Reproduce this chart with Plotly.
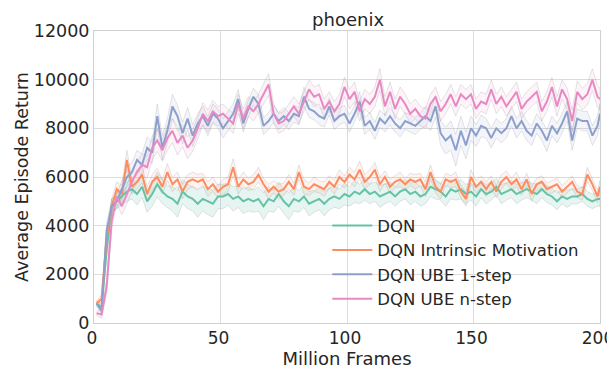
import plotly.graph_objects as go

frames = list(range(1, 200, 2)) + [200]

dqn = [800, 650, 3000, 4800, 5000, 5200, 5400, 5500, 5300, 5600,
       5000, 5300, 5700, 5400, 5200, 5100, 4900, 5400, 5200, 5100,
       4900, 5100, 5000, 4900, 5200, 5200, 5300, 5100, 5200, 5000,
       5100, 5000, 5100, 4800, 5100, 5000, 5300, 5000, 4800, 5100,
       5000, 5200, 4900, 5000, 5100, 4900, 5100, 5200, 5100, 5300,
       5200, 5400, 5300, 5500, 5300, 5400, 5200, 5300, 5400, 5200,
       5400, 5500, 5300, 5400, 5200, 5300, 5600, 5500, 5400, 5200,
       5500, 5400, 5500, 5300, 5400, 5200, 5500, 5300, 5400, 5600,
       5300, 5400, 5500, 5300, 5400, 5500, 5400, 5300, 5500, 5300,
       5200, 5000, 5200, 5100, 5200, 5200, 5300, 5100, 5000, 5100, 5100]

intrinsic = [800, 1000, 3500, 4800, 5500, 5300, 6700, 5600, 5800, 6100,
             5300, 5800, 6000, 5600, 6200, 5700, 5900, 5400, 5800, 5900,
             5800, 5900, 5500, 5700, 5400, 5600, 5700, 6400, 5600, 5900,
             5700, 5800, 6100, 5700, 5400, 5600, 5400, 5500, 5800, 5500,
             6200, 5600, 5500, 5700, 5600, 5500, 5800, 5600, 6000, 5800,
             6100, 5900, 6300, 5800, 6000, 6300, 5700, 6000, 5600, 5800,
             5900, 5700, 5900, 5800, 5900, 5500, 6200, 5600, 5400, 5900,
             5800, 5900, 5400, 5100, 6000, 5600, 5800, 5500, 5800, 5400,
             5800, 6000, 5700, 5900, 5500, 5900, 5300, 5700, 5800, 5500,
             5600, 5700, 5400, 5600, 5800, 5400, 5300, 6100, 5700, 5200, 5600]

ube_1step = [800, 500, 3800, 4800, 5000, 5500, 6000, 6200, 6700, 6500,
             7200, 7000, 8500, 7200, 7900, 8900, 8500, 7800, 8400, 7700,
             8200, 8500, 8100, 8600, 8400, 8000, 8300, 8600, 9200, 8200,
             8800, 9300, 9000, 8100, 8300, 8600, 8300, 8500, 8300, 8600,
             8500, 9300, 8800, 8700, 8500, 8400, 8900, 8300, 8500, 8600,
             8200, 8600, 9100, 8100, 8300, 7900, 8400, 8200, 8500, 8200,
             8000, 8300, 8200, 8100, 8300, 8500, 8300, 8900, 7800, 7500,
             7700, 7100, 7900, 7300, 8000, 7700, 8100, 8000, 7600, 8000,
             7800, 8000, 8500, 8000, 8300, 7900, 7700, 8200, 7900, 7500,
             8100, 7800, 8200, 8700, 7500, 8400, 8300, 8300, 7700, 8100, 8600]

ube_nstep = [400, 350, 1500, 4200, 5200, 4800, 5300, 5800, 6200, 6500,
             6400, 7200, 7500, 7100, 7600, 7900, 7400, 7700, 7200, 7500,
             8000, 8600, 8300, 8700, 8500, 8600, 8400, 8200, 9000, 8400,
             8900, 8700, 9000, 9400, 9800, 8600, 8200, 8300, 8600, 8900,
             8600, 9100, 9600, 9300, 9400, 8800, 9100, 8700, 9000, 9700,
             9200, 9500, 8700, 9200, 9000, 9300, 10000, 8900, 9500, 8800,
             9300, 9000, 8600, 8800, 8500, 8400, 9000, 9300, 8700, 9000,
             9400, 8900, 9400, 9200, 9400, 8800, 9100, 9000, 9600, 9000,
             9300, 8900, 9200, 9500, 8800, 9100, 9300, 9500, 8700, 9100,
             9700, 8900, 9600, 9200, 8300, 9500, 9200, 9400, 10000, 9300, 9200]

# half-width of the shaded spread around each mean
dqn_spread = [100, 150, 300, 300, 300, 350, 400, 400, 450, 450,
              450, 500, 500, 500, 450, 500, 550, 500, 500, 500,
              550, 500, 550, 550, 500, 500, 450, 500, 450, 500,
              500, 450, 500, 550, 500, 450, 500, 500, 550, 500,
              450, 450, 500, 450, 450, 500, 450, 450, 400, 450,
              400, 450, 400, 450, 400, 400, 450, 400, 400, 400,
              400, 400, 450, 400, 400, 400, 400, 400, 350, 400,
              400, 350, 400, 400, 350, 400, 350, 400, 350, 350,
              400, 350, 350, 400, 350, 350, 350, 400, 350, 350,
              350, 350, 300, 350, 300, 300, 300, 300, 300, 300, 300]

intrinsic_spread = [100, 150, 300, 300, 300, 350, 400, 300, 300, 350,
                    300, 300, 350, 300, 350, 300, 300, 300, 300, 300,
                    300, 250, 300, 300, 250, 300, 300, 350, 300, 300,
                    250, 300, 300, 250, 300, 250, 300, 250, 300, 250,
                    300, 300, 250, 300, 250, 300, 250, 300, 300, 250,
                    300, 300, 350, 300, 300, 300, 300, 250, 300, 250,
                    300, 250, 250, 300, 250, 300, 300, 250, 300, 250,
                    250, 300, 250, 300, 300, 250, 250, 300, 250, 250,
                    300, 250, 250, 300, 250, 250, 300, 250, 250, 250,
                    250, 250, 250, 250, 250, 250, 250, 300, 250, 250, 250]

ube_1step_spread = [100, 150, 300, 300, 300, 350, 400, 400, 400, 450,
                    450, 450, 500, 500, 500, 500, 450, 450, 450, 450,
                    400, 400, 400, 400, 400, 400, 400, 400, 400, 350,
                    350, 350, 400, 350, 350, 350, 350, 350, 350, 350,
                    350, 400, 350, 350, 350, 350, 350, 350, 350, 350,
                    350, 350, 400, 350, 350, 350, 350, 350, 350, 350,
                    350, 350, 350, 350, 350, 400, 400, 450, 500, 550,
                    600, 650, 600, 550, 500, 450, 450, 400, 400, 400,
                    400, 400, 400, 400, 400, 400, 400, 400, 400, 450,
                    400, 400, 400, 400, 400, 400, 400, 400, 400, 400, 400]

ube_nstep_spread = [100, 150, 300, 300, 300, 350, 400, 400, 450, 450,
                    450, 500, 450, 450, 500, 500, 500, 450, 450, 450,
                    450, 450, 450, 450, 400, 400, 400, 400, 400, 400,
                    400, 400, 400, 400, 450, 400, 400, 400, 400, 400,
                    400, 400, 400, 400, 400, 400, 400, 400, 400, 400,
                    400, 400, 400, 400, 400, 400, 450, 400, 400, 400,
                    400, 400, 400, 400, 400, 400, 400, 400, 400, 400,
                    400, 400, 400, 400, 400, 400, 400, 400, 400, 400,
                    400, 400, 400, 400, 400, 400, 400, 400, 400, 400,
                    400, 400, 400, 450, 450, 450, 450, 450, 450, 450, 450]

x_ticks = [0, 50, 100, 150, 200]
y_ticks = [0, 2000, 4000, 6000, 8000, 10000, 12000]

series = [
    ("DQN", dqn, dqn_spread, "#66c2a5", "rgba(102,194,165,0.16)"),
    ("DQN Intrinsic Motivation", intrinsic, intrinsic_spread, "#fc8d62", "rgba(252,141,98,0.10)"),
    ("DQN UBE 1-step", ube_1step, ube_1step_spread, "#8da0cb", "rgba(141,160,203,0.10)"),
    ("DQN UBE n-step", ube_nstep, ube_nstep_spread, "#e78ac3", "rgba(231,138,195,0.10)"),
]

fig = go.Figure()

for name, mean, spread, color, fillc in series:
    upper = [m + s for m, s in zip(mean, spread)]
    lower = [m - s for m, s in zip(mean, spread)]
    fig.add_trace(go.Scatter(
        x=frames + frames[::-1], y=upper + lower[::-1],
        fill="toself", fillcolor=fillc,
        line=dict(color="rgba(130,130,130,0.30)", width=0.7),
        mode="lines", showlegend=False, hoverinfo="skip"))

for name, mean, spread, color, fillc in series:
    fig.add_trace(go.Scatter(
        x=frames, y=mean, mode="lines", name=name,
        line=dict(color=color, width=2)))

axis_common = dict(
    showgrid=True, gridcolor="#dcdcdc", gridwidth=1,
    showline=True, linecolor="#d0d0d0", linewidth=1, mirror=True,
    zeroline=False, ticks="", ticklabeloverflow="allow", automargin=False,
)

fig.update_layout(
    width=615, height=377,
    margin=dict(l=86, r=23, t=23, b=62),
    paper_bgcolor="white", plot_bgcolor="white",
    font=dict(family="DejaVu Sans", color="#262626"),
    title=dict(text="phoenix", x=0.553, xanchor="center", yref="container",
               y=0.969, yanchor="middle",
               font=dict(size=18, color="#262626")),
    xaxis=dict(range=[0, 200], tickvals=x_ticks, ticktext=[str(v) for v in x_ticks],
               tickfont=dict(size=17, color="#262626"), ticklabelshift=-2,
               title=dict(text="Million Frames", standoff=2,
                          font=dict(size=18, color="#262626")),
               **axis_common),
    yaxis=dict(range=[0, 12000], tickvals=y_ticks, ticktext=[str(v) for v in y_ticks],
               tickfont=dict(size=17.5, color="#262626"),
               title=dict(text="Average Episode Return", standoff=0,
                          font=dict(size=17.5, color="#262626")),
               **axis_common),
    legend=dict(x=0.461, y=0.393, xanchor="left", yanchor="top",
                bgcolor="rgba(0,0,0,0)", borderwidth=0,
                font=dict(size=16.5, color="#262626"),
                itemwidth=40, tracegroupgap=0),
    showlegend=True,
)

fig.write_html("out.html")
